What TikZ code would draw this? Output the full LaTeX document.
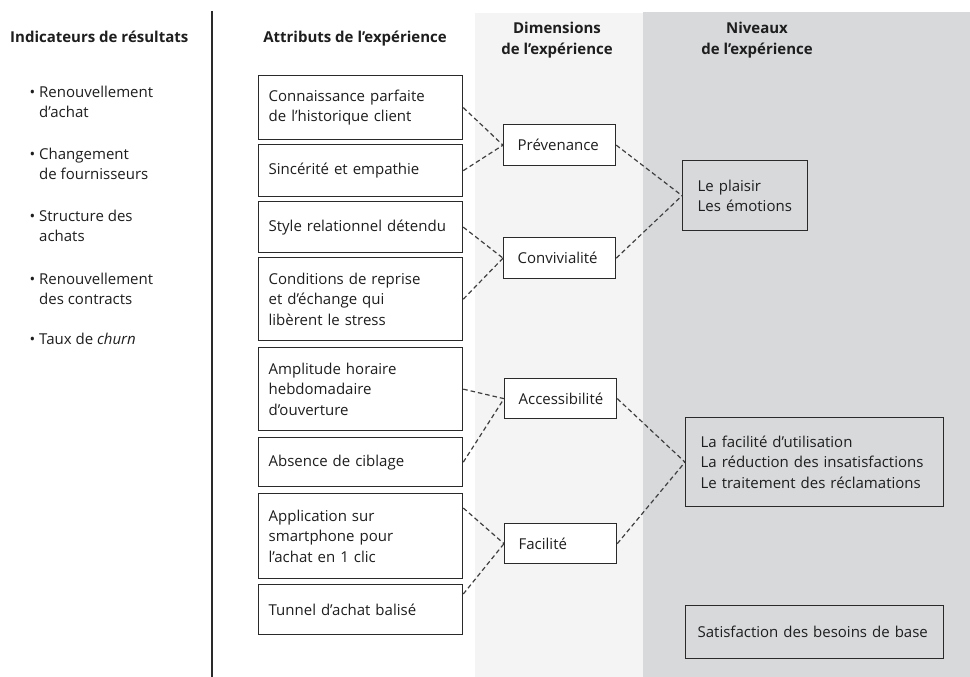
\documentclass[tikz,border=0pt]{standalone}
\usepackage{fontspec}
\setmainfont{Open Sans}
\definecolor{lightbg}{HTML}{F4F4F4}
\definecolor{darkbg}{HTML}{D7D9DB}
\definecolor{bord}{HTML}{2A2A2A}
\definecolor{txt}{HTML}{1E1E1E}
\begin{document}
\begin{tikzpicture}[x=1pt,y=-1pt,
  font=\fontsize{15}{20.3}\selectfont, text=txt,
  hdr/.style={font=\fontsize{15}{21}\selectfont\bfseries, inner sep=0pt, align=center},
  item/.style={anchor=north west, inner sep=0pt, align=left},
  attr/.style={draw=bord, line width=1.3pt, fill=white, anchor=north west, inner xsep=10pt, inner ysep=0pt, text width=184pt, align=left},
  dim/.style={draw=bord, line width=1.3pt, fill=white, anchor=north west, inner xsep=14pt, inner ysep=0pt, text width=84pt, align=left},
  lvl/.style={draw=bord, line width=1.3pt, fill=darkbg, anchor=north west, inner ysep=0pt, align=left},
  conn/.style={draw=bord!90, line width=1.2pt, dash pattern=on 4.5pt off 3pt}]
\useasboundingbox (0,0) rectangle (970,677);
\fill[white] (0,0) rectangle (970,677);
% backgrounds
\fill[lightbg] (475,13) rectangle (643,677);
\fill[darkbg] (643,12) rectangle (970,677);
% separator
\draw[line width=1.3pt, bord] (212,11) -- (212,677);
% headers
\node[hdr, anchor=mid west] (h1) at (10,40) {Indicateurs de résultats};
\node[hdr, anchor=mid] (h2) at (355,40) {Attributs de l’expérience};
\node[hdr] (h3) at (557,40) {Dimensions\\de l’expérience};
\node[hdr] (h4) at (757,40) {Niveaux\\de l’expérience};
% indicators
\node[item] (i1) at (39,85.5) {\llap{\textbullet\hspace{4pt}}Renouvellement\\d’achat};
\node[item] (i2) at (39,147.5) {\llap{\textbullet\hspace{4pt}}Changement\\de fournisseurs};
\node[item] (i3) at (39,209.5) {\llap{\textbullet\hspace{4pt}}Structure des\\achats};
\node[item] (i4) at (39,272.5) {\llap{\textbullet\hspace{4pt}}Renouvellement\\des contracts};
\node[item] (i5) at (39,332.5) {\llap{\textbullet\hspace{4pt}}Taux de \textit{churn}};
% attributes
\node[attr, minimum height=64pt] (a1) at (258,75) {Connaissance parfaite\\de l’historique client};
\node[attr, minimum height=52pt] (a2) at (258,144) {Sincérité et empathie};
\node[attr, minimum height=51pt] (a3) at (258,201) {Style relationnel détendu};
\node[attr, minimum height=83pt] (a4) at (258,257) {Conditions de reprise\\et d’échange qui\\libèrent le stress};
\node[attr, minimum height=83pt] (a5) at (258,347) {Amplitude horaire\\hebdomadaire\\d’ouverture};
\node[attr, minimum height=49pt] (a6) at (258,437) {Absence de ciblage};
\node[attr, minimum height=85pt] (a7) at (258,493) {Application sur\\smartphone pour\\l’achat en 1 clic};
\node[attr, minimum height=50pt] (a8) at (258,584) {Tunnel d’achat balisé};
% dimensions
\node[dim, minimum height=41pt] (prev) at (503,124) {Prévenance};
\node[dim, minimum height=41pt] (conv) at (503,237) {Convivialité};
\node[dim, minimum height=40pt] (acc) at (504,378) {Accessibilité};
\node[dim, minimum height=40pt] (fac) at (504,523) {Facilité};
% levels
\node[lvl, inner xsep=15pt, text width=95pt, minimum height=70pt] (l1) at (682,160) {Le plaisir\\Les émotions};
\node[lvl, inner xsep=15pt, text width=228pt, minimum height=89pt] (l2) at (685,417) {La facilité d’utilisation\\La réduction des insatisfactions\\Le traitement des réclamations};
\node[lvl, inner xsep=12pt, text width=234pt, minimum height=53pt] (l3) at (685,605) {Satisfaction des besoins de base};
% connectors
\draw[conn] (a1.east) -- (prev.west);
\draw[conn] (a2.east) -- (prev.west);
\draw[conn] (a3.east) -- (conv.west);
\draw[conn] (a4.east) -- (conv.west);
\draw[conn] (prev.east) -- (l1.west);
\draw[conn] (conv.east) -- (l1.west);
\draw[conn] (a5.east) -- (acc.west);
\draw[conn] (a6.east) -- (acc.west);
\draw[conn] ([yshift=-15pt]a7.north east) -- (fac.west);
\draw[conn] ([yshift=-10pt]a8.north east) -- (fac.west);
\draw[conn] (acc.east) -- (l2.west);
\draw[conn] (fac.east) -- (l2.west);
\end{tikzpicture}
\end{document}
